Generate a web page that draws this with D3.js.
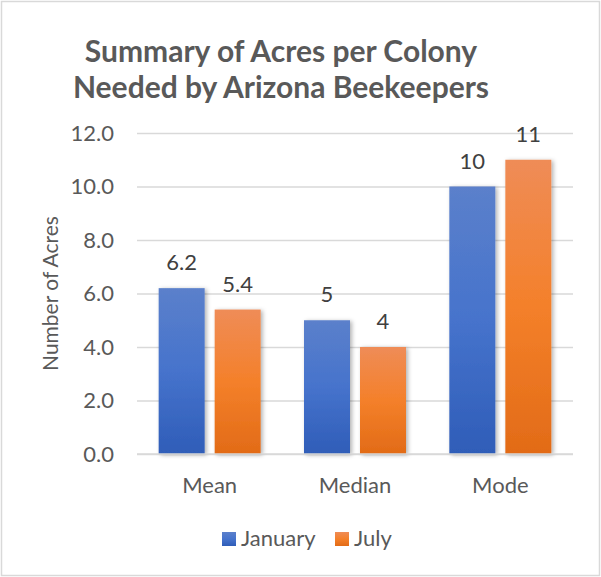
<!DOCTYPE html>
<html>
<head>
<meta charset="utf-8">
<script src="https://cdn.jsdelivr.net/npm/d3@7"></script>
<style>
html,body{margin:0;padding:0;background:#fff;}
svg{display:block;font-family:Lato,"Open Sans",sans-serif;}
</style>
</head>
<body>
<svg id="chart" width="601" height="577"></svg>
<script>
const categories = ["Mean", "Median", "Mode"];
const seriesNames = ["January", "July"];
const january = [6.2, 5, 10];
const july = [5.4, 4, 11];
const januaryLabels = ["6.2", "5", "10"];
const julyLabels = ["5.4", "4", "11"];
const yTicks = [0, 2, 4, 6, 8, 10, 12];
const titleLines = ["Summary of Acres per Colony", "Needed by Arizona Beekeepers"];
const yAxisTitle = "Number of Acres";

(function () {
const svg = d3.select("#chart");
const W = 601, H = 577;

svg.append("rect").attr("x", 1.5).attr("y", 1.5).attr("width", W - 3).attr("height", H - 3)
  .attr("fill", "#fff").attr("stroke", "#d9d9d9").attr("stroke-width", 1.5);

const defs = svg.append("defs");
function grad(id, c1, c2, c3) {
  const g = defs.append("linearGradient").attr("id", id).attr("x1", 0).attr("y1", 0).attr("x2", 0).attr("y2", 1);
  g.append("stop").attr("offset", "0%").attr("stop-color", c1);
  g.append("stop").attr("offset", "50%").attr("stop-color", c2);
  g.append("stop").attr("offset", "100%").attr("stop-color", c3);
}
grad("gBlue", "#5b80cb", "#4673cc", "#2f5db8");
grad("gOrange", "#ef8c57", "#f4802a", "#e26b17");
const f = defs.append("filter").attr("id", "shadow").attr("x", "-20%").attr("y", "-5%").attr("width", "150%").attr("height", "115%");
f.append("feDropShadow").attr("dx", 2).attr("dy", 1).attr("stdDeviation", 2).attr("flood-color", "#000").attr("flood-opacity", 0.3);

const pL = 137, pR = 573, pT = 133, pB = 454;
const x = d3.scaleBand().domain(categories).range([pL, pR]).paddingInner(0).paddingOuter(0);
const y = d3.scaleLinear().domain([0, 12]).range([pB, pT]);

svg.append("g").selectAll("text").data(titleLines).join("text")
  .attr("x", 281).attr("y", (d, i) => 62 + i * 36)
  .attr("text-anchor", "middle").attr("font-size", 30).attr("font-weight", "bold")
  .attr("fill", "#595959").text(d => d);

const yAxis = d3.axisLeft(y).tickValues(yTicks).tickFormat(d3.format(".1f")).tickSize(-(pR - pL)).tickPadding(23);
const ga = svg.append("g").attr("transform", `translate(${pL},0)`).call(yAxis);
ga.select(".domain").remove();
ga.selectAll(".tick line").attr("stroke", "#d9d9d9").attr("stroke-width", 1.5);
ga.selectAll(".tick text").attr("fill", "#595959").attr("font-size", 22).attr("font-family", "Lato,sans-serif");

svg.append("text").attr("transform", `translate(58,${(pT + pB) / 2}) rotate(-90)`)
  .attr("text-anchor", "middle").attr("font-size", 21).attr("fill", "#595959").text(yAxisTitle);

const barW = 46, gap = 10;
const series = [
  { name: seriesNames[0], values: january, labels: januaryLabels, fill: "url(#gBlue)", off: -(barW + gap / 2) },
  { name: seriesNames[1], values: july, labels: julyLabels, fill: "url(#gOrange)", off: gap / 2 }
];
const bars = svg.append("g");
series.forEach(s => {
  bars.append("g").selectAll("rect").data(categories).join("rect")
    .attr("x", (c) => x(c) + x.bandwidth() / 2 + s.off)
    .attr("y", (c, i) => y(s.values[i]))
    .attr("width", barW)
    .attr("height", (c, i) => y(0) - y(s.values[i]))
    .attr("fill", s.fill)
    .attr("filter", "url(#shadow)");
  bars.append("g").selectAll("text").data(categories).join("text")
    .attr("x", (c) => x(c) + x.bandwidth() / 2 + s.off + barW / 2)
    .attr("y", (c, i) => y(s.values[i]) - 18)
    .attr("text-anchor", "middle").attr("font-size", 22).attr("fill", "#404040")
    .text((c, i) => s.labels[i]);
});

svg.append("line").attr("x1", pL).attr("x2", pR).attr("y1", pB).attr("y2", pB)
  .attr("stroke", "#d9d9d9").attr("stroke-width", 1.5);

const xAxis = d3.axisBottom(x).tickSize(0).tickPadding(23);
const gx = svg.append("g").attr("transform", `translate(0,${pB})`).call(xAxis);
gx.select(".domain").remove();
gx.selectAll(".tick text").attr("fill", "#595959").attr("font-size", 22).attr("font-family", "Lato,sans-serif");

const legend = svg.append("g");
const legItems = [
  { name: seriesNames[0], fill: "url(#gBlue)", x: 222 },
  { name: seriesNames[1], fill: "url(#gOrange)", x: 335 }
];
legItems.forEach(l => {
  legend.append("rect").attr("x", l.x).attr("y", 532).attr("width", 14).attr("height", 14).attr("fill", l.fill);
  legend.append("text").attr("x", l.x + 19).attr("y", 546).attr("font-size", 22).attr("fill", "#595959").text(l.name);
});
})();
</script>
</body>
</html>
